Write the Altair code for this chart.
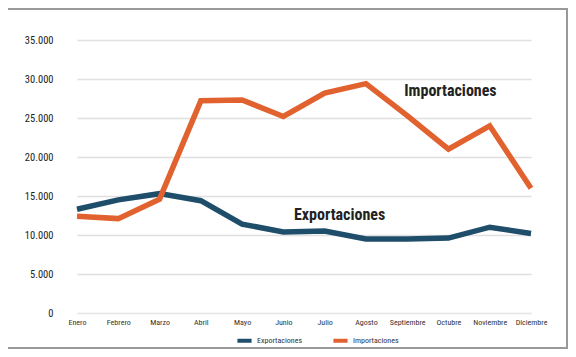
import altair as alt
import pandas as pd

meses = ["Enero", "Febrero", "Marzo", "Abril", "Mayo", "Junio", "Julio",
         "Agosto", "Septiembre", "Octubre", "Noviembre", "Diciembre"]
exportaciones = [13300, 14500, 15300, 14400, 11400, 10400, 10500, 9500, 9500, 9600, 11000, 10200]
importaciones = [12400, 12100, 14600, 27200, 27300, 25200, 28200, 29400, 25300, 21000, 24000, 16000]
series = ["Exportaciones", "Importaciones"]
colores = ["#1f4e6b", "#e2622f"]
y_ticks = [0, 5000, 10000, 15000, 20000, 25000, 30000, 35000]

rows = []
for m, e, i in zip(meses, exportaciones, importaciones):
    rows.append({"mes": m, "serie": "Exportaciones", "valor": e})
    rows.append({"mes": m, "serie": "Importaciones", "valor": i})
df = pd.DataFrame(rows)

labels_imp = pd.DataFrame({"mes": ["Octubre"], "valor": [28500], "texto": ["Importaciones"]})
labels_exp = pd.DataFrame({"mes": ["Julio"], "valor": [12600], "texto": ["Exportaciones"]})

FONT = "Roboto Condensed, DejaVu Sans Condensed, Liberation Sans Narrow, Roboto, sans-serif"
W, H = 488, 273

x = alt.X("mes:N", sort=meses,
          scale=alt.Scale(type="point", range=[14, 468], padding=0),
          axis=alt.Axis(title=None, labelAngle=0, ticks=False, domain=True,
                        domainColor="#e6e6e6", labelFontSize=8, labelColor="#333",
                        labelFont=FONT, labelPadding=5, grid=False, labelOverlap=False))
y = alt.Y("valor:Q", scale=alt.Scale(domain=[0, 35000], nice=False),
          axis=alt.Axis(title=None, values=y_ticks, format=",.0f", ticks=False,
                        domain=False, labelFontSize=10.5, labelColor="#222",
                        labelFont=FONT, labelPadding=10, gridColor="#e0e0e0",
                        gridWidth=1.5, labelOverlap=False, labelFlush=False,
                        labelExpr="replace(datum.label, ',', '.')"))

lines = alt.Chart(df).mark_line(strokeWidth=5.5, strokeJoin="miter").encode(
    x=x, y=y,
    color=alt.Color("serie:N", scale=alt.Scale(domain=series, range=colores),
                    legend=alt.Legend(title=None, orient="none", direction="horizontal",
                                      legendX=172, legendY=291, symbolType="stroke",
                                      symbolStrokeWidth=4, symbolSize=200,
                                      labelFontSize=8, labelFont=FONT, labelColor="#333",
                                      columnPadding=22, symbolOffset=0, labelOffset=3)),
)

text_imp = alt.Chart(labels_imp).mark_text(
    fontSize=16, fontWeight="bold", font=FONT, color="#222", align="center", dx=2
).encode(x=x, y=y, text="texto:N")
text_exp = alt.Chart(labels_exp).mark_text(
    fontSize=16, fontWeight="bold", font=FONT, color="#222", align="center", dx=15
).encode(x=x, y=y, text="texto:N")

frame_df = pd.DataFrame({"k": [0]})
frame_top = alt.Chart(frame_df).mark_rule(color="#999", strokeWidth=2).encode(
    x=alt.value(-60), x2=alt.value(505), y=alt.value(-31))
frame_right = alt.Chart(frame_df).mark_rule(color="#999", strokeWidth=2).encode(
    x=alt.value(504), y=alt.value(-32), y2=alt.value(309))
frame_bottom = alt.Chart(frame_df).mark_rule(color="#999", strokeWidth=2).encode(
    x=alt.value(-60), x2=alt.value(505), y=alt.value(308))

chart = alt.layer(lines, text_imp, text_exp, frame_top, frame_right, frame_bottom).properties(
    width=W, height=H,
    background="white",
    autosize=alt.AutoSizeParams(type="none"),
    padding={"left": 55, "top": 32, "right": 17, "bottom": 36},
).configure_view(strokeWidth=0, stroke="transparent")

chart.save("out.html", embed_options={"renderer": "svg", "actions": False})
